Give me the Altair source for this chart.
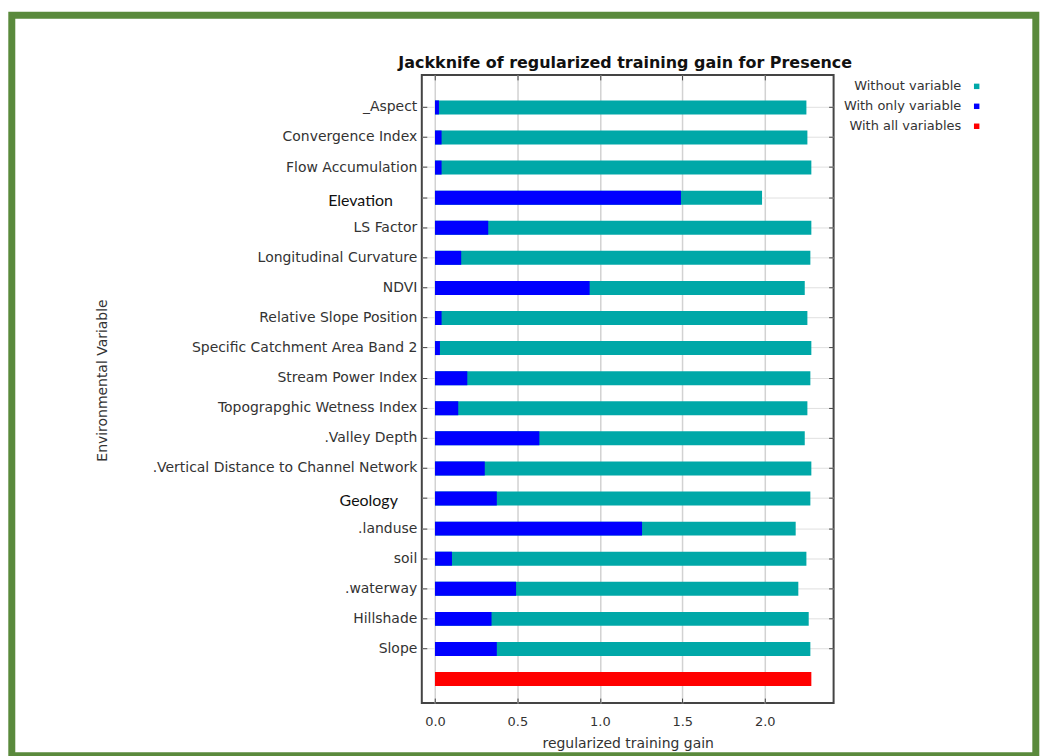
import altair as alt
import pandas as pd

variables = [
    "_Aspect", "Convergence Index", "Flow Accumulation", "Elevation", "LS Factor",
    "Longitudinal Curvature", "NDVI", "Relative Slope Position",
    "Specific Catchment Area Band 2", "Stream Power Index", "Topograpghic Wetness Index",
    ".Valley Depth", ".Vertical Distance to Channel Network", "Geology", ".landuse",
    "soil", ".waterway", "Hillshade", "Slope",
]
without_gain = [2.253, 2.259, 2.283, 1.984, 2.283, 2.277, 2.243, 2.259, 2.283, 2.277,
                2.259, 2.243, 2.283, 2.277, 2.188, 2.253, 2.204, 2.267, 2.277]
only_gain = [0.024, 0.040, 0.040, 1.492, 0.323, 0.159, 0.938, 0.040, 0.030, 0.196,
             0.141, 0.633, 0.302, 0.375, 1.256, 0.103, 0.492, 0.343, 0.375]
all_gain = 2.283
all_row = "All variables"
series_names = ["Without variable", "With only variable", "With all variables"]
series_colors = ["#00a8a8", "#0000ff", "#ff0000"]
x_ticks = [0.0, 0.5, 1.0, 1.5, 2.0]
chart_title = "Jackknife of regularized training gain for Presence"
pasted_labels = ["Elevation", "Geology"]

rows = []
for v, g in zip(variables, without_gain):
    rows.append({"variable": v, "series": series_names[0], "gain": g, "z": 0})
for v, g in zip(variables, only_gain):
    rows.append({"variable": v, "series": series_names[1], "gain": g, "z": 1})
rows.append({"variable": all_row, "series": series_names[2], "gain": all_gain, "z": 2})
df = pd.DataFrame(rows)
y_domain = variables + [all_row]

FONT = "DejaVu Sans"
x_scale = alt.Scale(domain=[-0.08, 2.418], nice=False, zero=True)
y_scale = alt.Scale(domain=y_domain, paddingInner=0, paddingOuter=0.44, align=0.66)

label_expr = ("datum.value == 'Elevation' || datum.value == 'Geology' ? '' : datum.label")

bars = alt.Chart(df).mark_bar(size=14).encode(
    x=alt.X("gain:Q", scale=x_scale, axis=alt.Axis(
        orient="bottom", values=x_ticks, format=".1f",
        title="regularized training gain", titleFont=FONT, titleFontSize=14,
        titleFontWeight="normal", titleColor="#333", titleBaseline="top", titleY=38.5,
        labelFont=FONT, labelFontSize=13, labelColor="#333", labelPadding=12,
        tickSize=5, tickColor="#444", offset=-5, domain=False,
        grid=True, gridColor="#d2d2d2", gridWidth=1.5)),
    x2=alt.datum(0),
    y=alt.Y("variable:N", scale=y_scale, axis=alt.Axis(
        orient="left", values=variables,
        title="Environmental Variable", titleFont=FONT, titleFontSize=14,
        titleFontWeight="normal", titleColor="#333", titleAngle=270,
        titleBaseline="middle", titleX=-325, titleY=306,
        labelFont=FONT, labelFontSize=14, labelColor="#333",
        labelExpr=label_expr, labelPadding=5, labelLimit=400,
        tickSize=5, tickColor="#444", offset=-5, domain=False,
        grid=True, gridColor="#e0e0e0", gridWidth=1)),
    color=alt.Color("series:N", scale=alt.Scale(domain=series_names, range=series_colors),
                    legend=alt.Legend(
                        title=None, orient="none", legendX=550, legendY=5,
                        direction="vertical", symbolType="square", symbolSize=30,
                        symbolStrokeWidth=0, labelAlign="right",
                        labelOffset={"expr": "-22"},
                        labelFont=FONT, labelFontSize=13, labelColor="#333",
                        rowPadding=6, padding=0)),
    order=alt.Order("z:Q"),
)

frame_axes = alt.Chart(df).mark_bar(size=14, opacity=0).encode(
    x=alt.X("gain:Q", scale=x_scale, axis=alt.Axis(
        orient="top", values=x_ticks, labels=False, title=None,
        tickSize=5, tickColor="#444", offset=-5, domain=False, grid=False)),
    x2=alt.datum(0),
    y=alt.Y("variable:N", scale=y_scale, axis=alt.Axis(
        orient="right", values=variables, labels=False, title=None,
        tickSize=5, tickColor="#444", offset=-5, domain=False, grid=False)),
)

pasted_df = pd.DataFrame({"variable": pasted_labels})


def pasted_layer(name, xpos):
    return alt.Chart(pasted_df).transform_filter(
        alt.datum.variable == name
    ).mark_text(
        font="Lato", fontSize=16, color="#111", align="right", baseline="middle", dy=3
    ).encode(
        y=alt.Y("variable:N", scale=y_scale, axis=None),
        x=alt.value(xpos),
        text="variable:N",
    )


elev_label = pasted_layer(pasted_labels[0], -29)
geo_label = pasted_layer(pasted_labels[1], -24)

one_df = pd.DataFrame({"k": [0]})
border = alt.Chart(one_df).mark_rect(
    fillOpacity=0, stroke="#5a8a3c", strokeWidth=7
).encode(
    x=alt.value(-411.2), x2=alt.value(615.8), y=alt.value(-59.8), y2=alt.value(682.7)
)

title_text = alt.Chart(one_df).mark_text(
    font=FONT, fontSize=16, fontWeight="bold", color="#111",
    align="center", baseline="alphabetic"
).encode(
    x=alt.value(204), y=alt.value(-7), text=alt.value(chart_title)
)

chart = alt.layer(border, title_text, bars, frame_axes, elev_label, geo_label).resolve_axis(
    x="independent", y="independent"
).properties(
    width=413, height=630,
    padding={"left": 0, "top": 2, "right": 0, "bottom": 0},
    background="white",
).configure_view(stroke="#444", strokeWidth=2)

chart.save("out.html", embed_options={"renderer": "svg", "actions": False})
